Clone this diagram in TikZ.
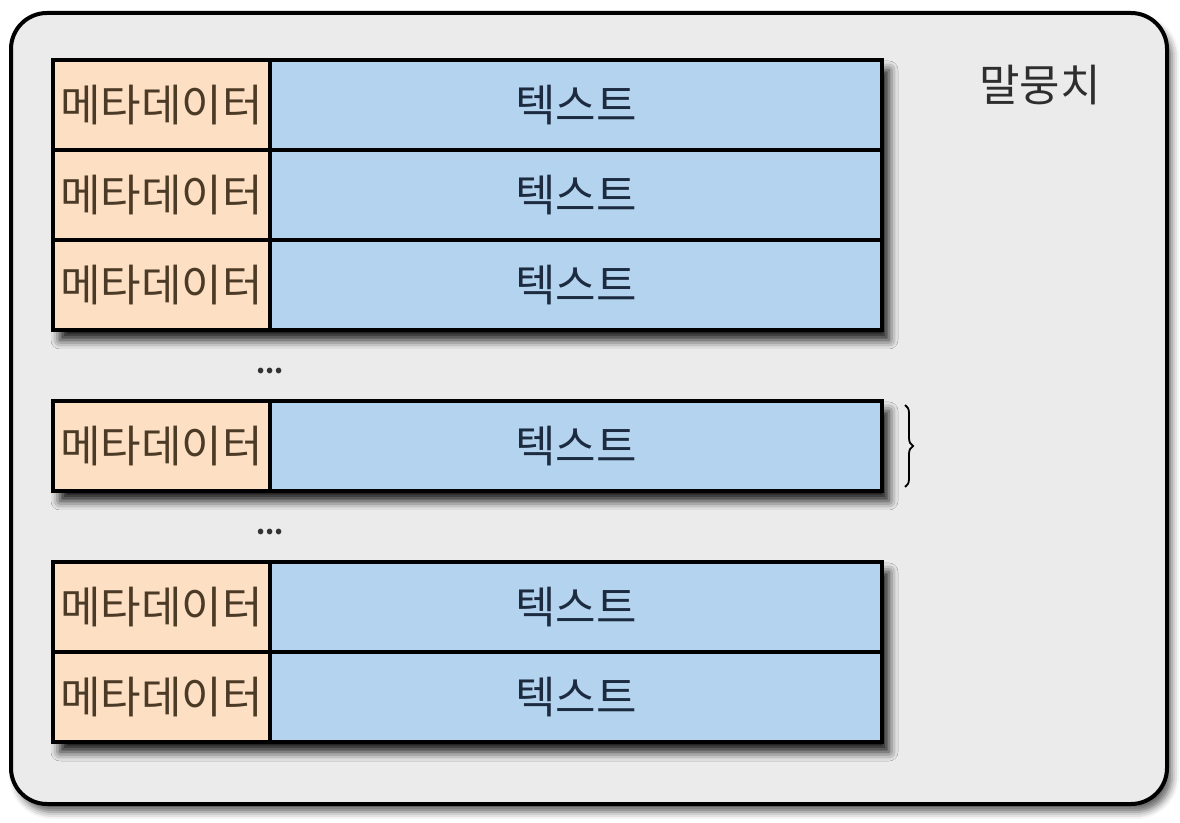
\documentclass[tikz,border=0pt]{standalone}
\usepackage{fontspec}
\setmainfont{Noto Sans CJK KR}
\usetikzlibrary{positioning,calc,shadows.blur,decorations.pathreplacing,backgrounds}
\definecolor{boxgray}{HTML}{EBEBEB}
\definecolor{metafill}{HTML}{FDDFC3}
\definecolor{bodyfill}{HTML}{B4D3EE}
\definecolor{metatext}{HTML}{4B3A26}
\definecolor{bodytext}{HTML}{1C2B40}
\definecolor{titletext}{HTML}{2E2E2E}

\begin{document}
\begin{tikzpicture}[x=1pt, y=1pt, node distance=0pt and 0pt,
corpus/.style={draw, line width=4pt, rounded corners=36pt, fill=boxgray, minimum width=1156pt, minimum height=791pt,
  blur shadow={shadow xshift=5pt, shadow yshift=-8pt, shadow blur radius=7pt, shadow opacity=60}},
meta/.style={draw, line width=4.5pt, outer sep=0pt, fill=metafill, text=metatext, minimum width=217pt, minimum height=90pt, inner sep=0pt,
  font=\fontsize{44}{50}\selectfont},
body/.style={draw, line width=4.5pt, outer sep=0pt, fill=bodyfill, text=bodytext, minimum width=612pt, minimum height=90pt, inner sep=0pt,
  font=\fontsize{44}{50}\selectfont},
blockshadow/.style={blur shadow={shadow xshift=7pt, shadow yshift=-10pt, shadow blur radius=9pt, shadow opacity=90}},
gap/.style={font=\bfseries\fontsize{26}{30}\selectfont, text=black!80, inner sep=0pt}]
\useasboundingbox (0,0) rectangle (1180,822);
\node[font=\fontsize{44}{50}\selectfont, text=titletext] (title) at (1040,737) {말뭉치};
% first block of documents
\node[meta, anchor=north west] (m1) at (53,762) {메타데이터};
\node[body, right=of m1] (t1) {텍스트};
\node[meta, below=of m1] (m2) {메타데이터};
\node[body, right=of m2] (t2) {텍스트};
\node[meta, below=of m2] (m3) {메타데이터};
\node[body, right=of m3] (t3) {텍스트};
% single document
\node[meta, below=71pt of m3] (m4) {메타데이터};
\node[body, right=of m4] (t4) {텍스트};
% last block
\node[meta, below=71pt of m4] (m5) {메타데이터};
\node[body, right=of m5] (t5) {텍스트};
\node[meta, below=of m5] (m6) {메타데이터};
\node[body, right=of m6] (t6) {텍스트};
\node[gap, yshift=-5pt] (g1) at ($(m3.south east)!0.5!(m4.north east)$) {...};
\node[gap, yshift=-5pt] (g2) at ($(m4.south east)!0.5!(m5.north east)$) {...};
\coordinate (b1) at ([xshift=23pt, yshift=-4pt]t4.north east);
\coordinate (b2) at ([xshift=23pt, yshift=4pt]t4.south east);
\draw[line width=1.8pt, decorate, decoration={brace, amplitude=8pt}] (b1) -- (b2);
\begin{scope}[on background layer]
\node[corpus] (corpus) at (589,413.5) {};
\path[blockshadow] (m1.north west) rectangle (t3.south east);
\path[blockshadow] (m4.north west) rectangle (t4.south east);
\path[blockshadow] (m5.north west) rectangle (t6.south east);
\end{scope}
\end{tikzpicture}
\end{document}
